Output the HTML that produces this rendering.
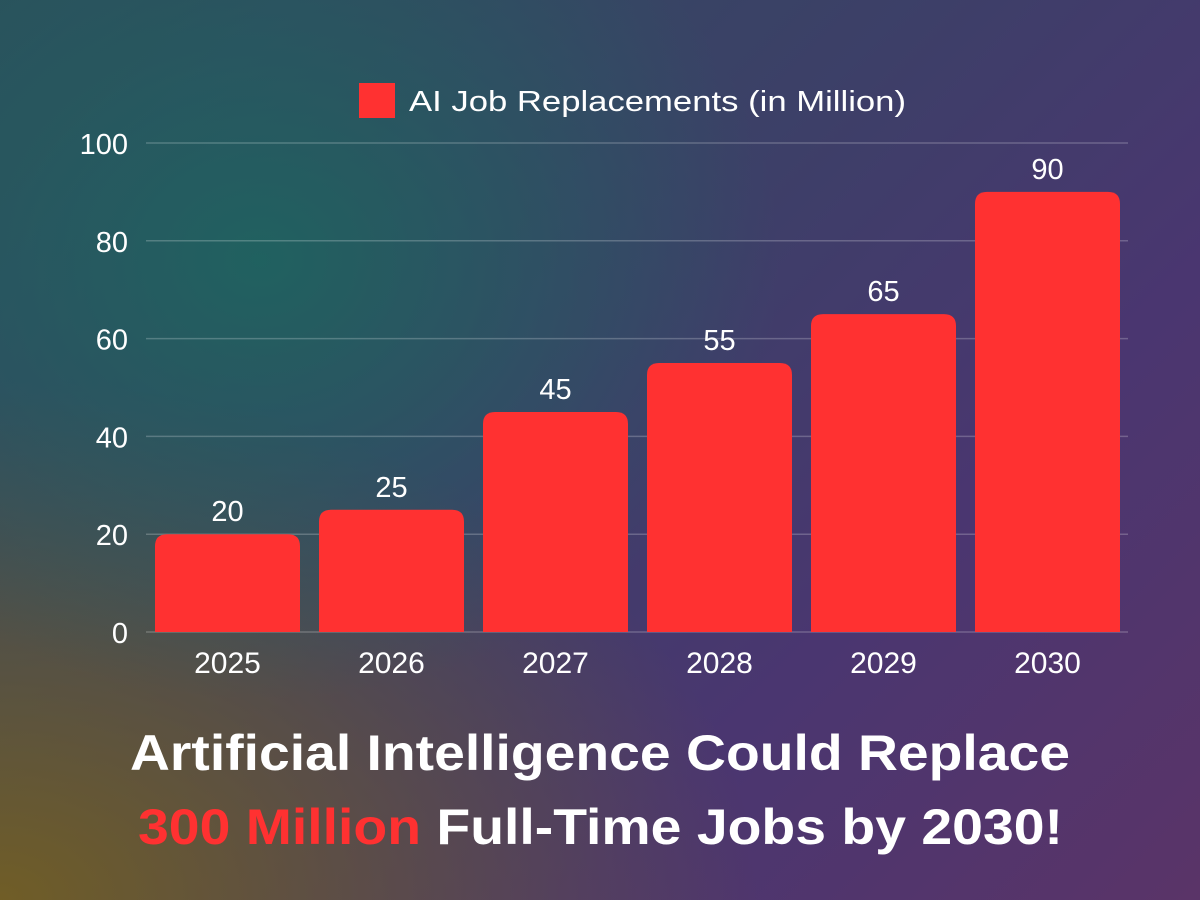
<!DOCTYPE html>
<html><head><meta charset="utf-8"><style>
html,body{margin:0;padding:0}
body{width:1200px;height:900px;overflow:hidden;font-family:"Liberation Sans",sans-serif;
background:
radial-gradient(ellipse 520px 440px at 260px 260px, rgba(30,100,95,0.9), rgba(30,100,95,0) 100%),
radial-gradient(ellipse 760px 520px at 0px 900px, rgba(115,95,35,0.95), rgba(115,95,35,0) 100%),
linear-gradient(135deg,#2c4f5c 0%,#3d3f68 45%,#4a3670 70%,#5a3468 100%);}
svg{position:absolute;left:0;top:0}
</style></head><body>
<svg width="1200" height="900">
<g id="grid"></g><g id="bars"></g><g id="labels"></g>
<rect x="359" y="83" width="36" height="35" fill="#ff3131"/>
<text x="409" y="111" fill="#fff" font-size="29" textLength="497" lengthAdjust="spacingAndGlyphs">AI Job Replacements (in Million)</text>
<text x="130" y="770" fill="#fff" font-size="50" font-weight="bold" textLength="940" lengthAdjust="spacingAndGlyphs">Artificial Intelligence Could Replace</text>
<text x="138" y="844" fill="#fff" font-size="50" font-weight="bold" textLength="925" lengthAdjust="spacingAndGlyphs"><tspan fill="#ff3131">300 Million</tspan> Full-Time Jobs by 2030!</text>
</svg>
<script>
const categories=["2025","2026","2027","2028","2029","2030"];
const values=[20,25,45,55,65,90];
const yTicks=[0,20,40,60,80,100];
const NS="http://www.w3.org/2000/svg";
const x0=146,band=164,y0=632,yTop=143,ymax=100;
function y(v){return y0-(y0-yTop)*v/ymax;}
function mk(t,a,p){const e=document.createElementNS(NS,t);for(const k in a)e.setAttribute(k,a[k]);p.appendChild(e);return e;}
const grid=document.getElementById('grid'),bars=document.getElementById('bars'),labels=document.getElementById('labels');
yTicks.forEach(t=>{
  const l=mk('line',{x1:x0,x2:1128,y1:y(t),y2:y(t),stroke:'rgba(255,255,255,0.22)','stroke-width':1.5},grid);
  
  
  const tx=mk('text',{x:128,y:y(t)+11,'text-anchor':'end',fill:'#fff','font-size':29},labels);
  tx.textContent=t;
  
  
});
categories.forEach((c,i)=>{
  const bx=x0+i*band+9,w=145,top=y(values[i]),r=12;
  const p=mk('path',{d:`M${bx},${y0}V${top+r}Q${bx},${top} ${bx+r},${top}H${bx+w-r}Q${bx+w},${top} ${bx+w},${top+r}V${y0}Z`,fill:'#ff3131'},bars);
  
  
  const v=mk('text',{x:bx+w/2,y:top-13,'text-anchor':'middle',fill:'#fff','font-size':29},labels);
  v.textContent=values[i];
  
  
  const cl=mk('text',{x:bx+w/2,y:673,'text-anchor':'middle',fill:'#fff','font-size':30},labels);
  cl.textContent=c;
  
  
});
</script>
</body></html>
